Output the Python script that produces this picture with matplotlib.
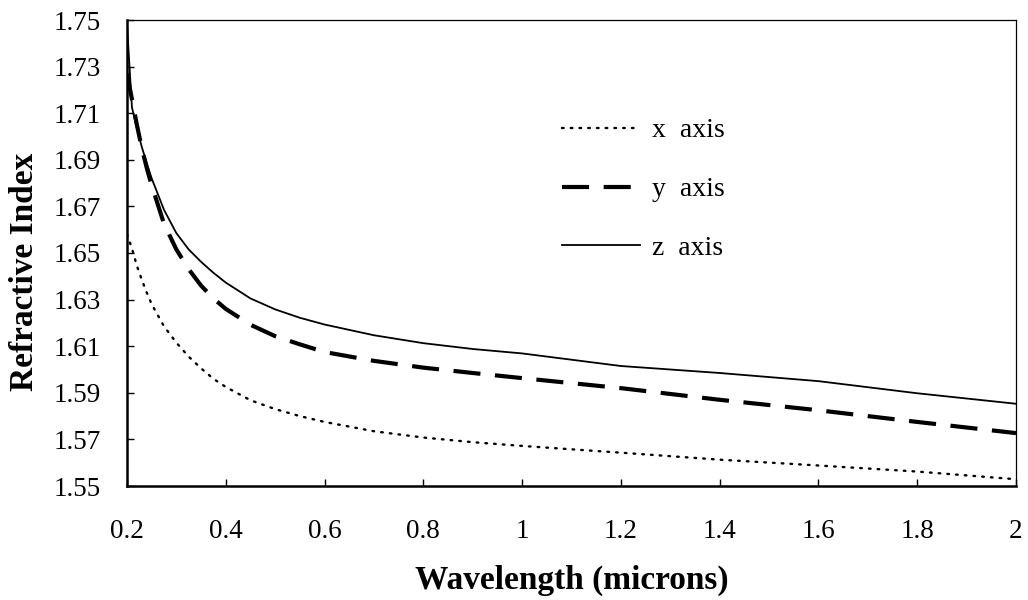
import matplotlib
matplotlib.use("Agg")
import matplotlib.pyplot as plt

plt.rcParams['font.family'] = ['Liberation Serif', 'DejaVu Serif']

wavelength = [0.2, 0.21, 0.22, 0.23, 0.24, 0.25, 0.275, 0.3, 0.325, 0.35, 0.375,
              0.4, 0.45, 0.5, 0.55, 0.6, 0.7, 0.8, 0.9, 1.0, 1.2, 1.4, 1.6, 1.8, 2.0]
n_x = [1.658, 1.652, 1.6445, 1.6385, 1.633, 1.628, 1.6185, 1.6115, 1.6055, 1.6005, 1.596,
       1.5925, 1.5868, 1.583, 1.580, 1.5775, 1.5735, 1.5708, 1.5688, 1.5672, 1.5643,
       1.5613, 1.5588, 1.5562, 1.5529]
n_y = [1.727, 1.716, 1.705, 1.695, 1.6865, 1.679, 1.6625, 1.6515, 1.643, 1.636, 1.6305,
       1.626, 1.6192, 1.6143, 1.6108, 1.6075, 1.6037, 1.6008, 1.5985, 1.5963, 1.5920,
       1.5870, 1.5825, 1.5775, 1.5727]
n_z = [1.748, 1.7125, 1.7035, 1.6955, 1.6885, 1.682, 1.6685, 1.6585, 1.6515, 1.6462, 1.6415,
       1.6373, 1.6305, 1.6258, 1.6222, 1.6193, 1.6147, 1.6113, 1.6088, 1.6069, 1.6015,
       1.5985, 1.5950, 1.5898, 1.5853]

xticks = [0.2, 0.4, 0.6, 0.8, 1.0, 1.2, 1.4, 1.6, 1.8, 2.0]
xtick_labels = ['0.2', '0.4', '0.6', '0.8', '1', '1.2', '1.4', '1.6', '1.8', '2']
yticks = [1.55, 1.57, 1.59, 1.61, 1.63, 1.65, 1.67, 1.69, 1.71, 1.73, 1.75]
ytick_labels = ['%.2f' % v for v in yticks]
series_labels = ['x  axis', 'y  axis', 'z  axis']

fig = plt.figure(figsize=(10.28, 6.0), dpi=100)
ax = fig.add_axes([127/1028, 1 - 486/600, (1016 - 127)/1028, (486 - 20)/600])

ax.plot(wavelength, n_x, color='black', lw=1.7, linestyle=(0, (0.7, 3.0)),
        dash_capstyle='round', label=series_labels[0])
ax.plot(wavelength, n_y, color='black', lw=3.0, linestyle=(0, (6.5, 3.5)),
        label=series_labels[1])
ax.plot(wavelength, n_z, color='black', lw=1.3, label=series_labels[2])

ax.set_xlim(0.2, 2.0)
ax.set_ylim(1.55, 1.75)
ax.set_xticks(xticks)
ax.set_xticklabels(xtick_labels)
ax.set_yticks(yticks)
ax.set_yticklabels(ytick_labels)
ax.tick_params(direction='in', length=5, width=1, labelsize=19.5, top=False, right=False)
ax.tick_params(axis='x', pad=24)
ax.tick_params(axis='y', pad=19)

ax.spines['left'].set_linewidth(1.8)
ax.spines['bottom'].set_linewidth(1.8)
ax.spines['top'].set_linewidth(0.9)
ax.spines['right'].set_linewidth(0.9)

ax.set_xlabel('Wavelength (microns)', fontsize=24, fontweight='bold', labelpad=15)
ax.set_ylabel('Refractive Index', fontsize=24, fontweight='bold')
ax.yaxis.set_label_coords((40 - 127) / 889, (486 - 272) / 466)

leg = ax.legend(loc='upper left', bbox_to_anchor=((562 - 127) / 889, (486 - 118) / 466),
                frameon=False, fontsize=20, handlelength=2.8, labelspacing=1.2,
                handletextpad=0.45, borderpad=0, borderaxespad=0)

fig.savefig('out.png', dpi=100)
